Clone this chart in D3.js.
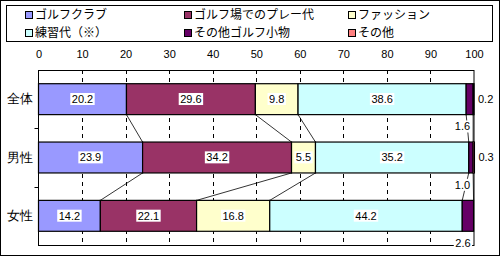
<!DOCTYPE html>
<html>
<head>
<meta charset="utf-8">
<script src="https://cdn.jsdelivr.net/npm/d3@7"></script>
<style>
  body { margin: 0; background: #fff; }
  svg { display: block; font-family: "Noto Sans CJK JP", sans-serif; }
</style>
</head>
<body>
<svg id="chart" width="500" height="257"></svg>
<script>
// data
const groups = ["全体", "男性", "女性"];
const seriesNames = ["ゴルフクラブ", "ゴルフ場でのプレー代", "ファッション", "練習代（※）", "その他ゴルフ小物", "その他"];
const seriesColors = ["#9999ff", "#993366", "#ffffcc", "#ccffff", "#660066", "#ff8080"];
const valuesAll = [20.2, 29.6, 9.8, 38.6, 1.6, 0.2];
const valuesMale = [23.9, 34.2, 5.5, 35.2, 1.0, 0.3];
const valuesFemale = [14.2, 22.1, 16.8, 44.2, 2.6, 0];
const xTicks = [0, 10, 20, 30, 40, 50, 60, 70, 80, 90, 100];

const rows = [valuesAll, valuesMale, valuesFemale].map((vals, gi) => {
  let acc = 0;
  return vals.map((v, si) => {
    const seg = { group: groups[gi], si, v, x0: acc, x1: acc + v };
    acc += v;
    return seg;
  });
});

const svg = d3.select("#chart");
const W = 500, H = 257;
const plot = { left: 38.5, right: 474, top: 70, bottom: 245 };

// outer frame
svg.append("rect").attr("x", 0.5).attr("y", 0.5).attr("width", W - 1).attr("height", H - 2)
  .attr("fill", "#fff").attr("stroke", "#000");

const x = d3.scaleLinear().domain([0, 100]).range([plot.left, plot.right]);
const y = d3.scaleBand().domain(groups).range([plot.top, plot.bottom]).paddingInner(0.47).paddingOuter(0.235);

// gridlines
svg.append("g").selectAll("line").data(xTicks.slice(1, -1)).join("line")
  .attr("x1", d => Math.round(x(d)) + 0.5).attr("x2", d => Math.round(x(d)) + 0.5)
  .attr("y1", plot.top).attr("y2", plot.bottom)
  .attr("stroke", "#000").attr("stroke-dasharray", "4,4");

// x axis labels on top
const xAxis = d3.axisTop(x).tickValues(xTicks).tickSize(0).tickPadding(0);
const gx = svg.append("g").attr("transform", `translate(0,${plot.top - 12})`).call(xAxis);
gx.select(".domain").remove();
gx.selectAll("text").attr("font-size", 11).attr("fill", "#000").attr("font-family", "Arial, 'Liberation Sans', sans-serif");

// category axis
const yAxis = d3.axisLeft(y).tickSize(0).tickPadding(6);
const gy = svg.append("g").attr("transform", `translate(${plot.left},0)`).call(yAxis);
gy.select(".domain").remove();
gy.selectAll("text").attr("font-size", 12.5).attr("fill", "#000");
// band boundary ticks
const step = y.step();
svg.append("g").selectAll("line").data(d3.range(1, groups.length)).join("line")
  .attr("x1", plot.left - 4).attr("x2", plot.left)
  .attr("y1", d => Math.round(plot.top + d * step) + 0.5).attr("y2", d => Math.round(plot.top + d * step) + 0.5)
  .attr("stroke", "#000");

// plot frame
svg.append("rect").attr("x", plot.left).attr("y", plot.top + 0.5)
  .attr("width", plot.right - plot.left).attr("height", plot.bottom - plot.top)
  .attr("fill", "none").attr("stroke", "#000");

// series lines
for (let gi = 0; gi < rows.length - 1; gi++) {
  const a = rows[gi], b = rows[gi + 1];
  for (let si = 0; si < 5; si++) {
    svg.append("line")
      .attr("x1", x(a[si].x1)).attr("y1", y(groups[gi]) + y.bandwidth())
      .attr("x2", x(b[si].x1)).attr("y2", y(groups[gi + 1]))
      .attr("stroke", "#000").attr("stroke-width", 0.8);
  }
}

// bars
rows.forEach(row => {
  svg.append("g").selectAll("rect").data(row.filter(d => d.v > 0)).join("rect")
    .attr("x", d => x(d.x0)).attr("width", d => x(d.x1) - x(d.x0))
    .attr("y", d => y(d.group)).attr("height", y.bandwidth())
    .attr("fill", d => seriesColors[d.si])
    .attr("stroke", "#000").attr("stroke-width", 1.2);
});

// labels
function boxLabel(tx, ty, text, anchor) {
  const g = svg.append("g");
  const t = g.append("text").attr("x", tx).attr("y", ty).attr("dy", "0.35em")
    .attr("text-anchor", anchor).attr("font-size", 11)
    .attr("font-family", "Arial, 'Liberation Sans', sans-serif").text(text);
  const bb = t.node().getBBox();
  g.insert("rect", "text").attr("x", bb.x - 1.5).attr("y", bb.y).attr("width", bb.width + 3).attr("height", bb.height)
    .attr("fill", "#fff");
}
rows.forEach(row => {
  row.forEach(d => {
    if (d.v <= 0) return;
    const cy = y(d.group) + y.bandwidth() / 2;
    if (d.si < 4) {
      boxLabel((x(d.x0) + x(d.x1)) / 2, cy, d.v.toFixed(1), "middle");
    } else if (d.si === 4) {
      boxLabel(x(d.x1) - 3, y(d.group) + y.bandwidth() + 12, d.v.toFixed(1), "end");
    } else {
      boxLabel(x(d.x1) + 4, cy, d.v.toFixed(1), "start");
    }
  });
});

// legend
svg.append("rect").attr("x", 6.5).attr("y", 5.5).attr("width", 486).attr("height", 36)
  .attr("fill", "#fff").attr("stroke", "#000");
const legendCols = [25, 184, 348];
const legend = svg.append("g").selectAll("g").data(seriesNames).join("g")
  .attr("transform", (d, i) => `translate(${legendCols[i % 3]},${i < 3 ? 15 : 33})`);
legend.append("rect").attr("x", 0.5).attr("y", -3.5).attr("width", 7).attr("height", 7)
  .attr("fill", (d, i) => seriesColors[i]).attr("stroke", "#000");
legend.append("text").attr("x", 10).attr("dy", "0.36em").attr("font-size", 12).text(d => d);
</script>
</body>
</html>
